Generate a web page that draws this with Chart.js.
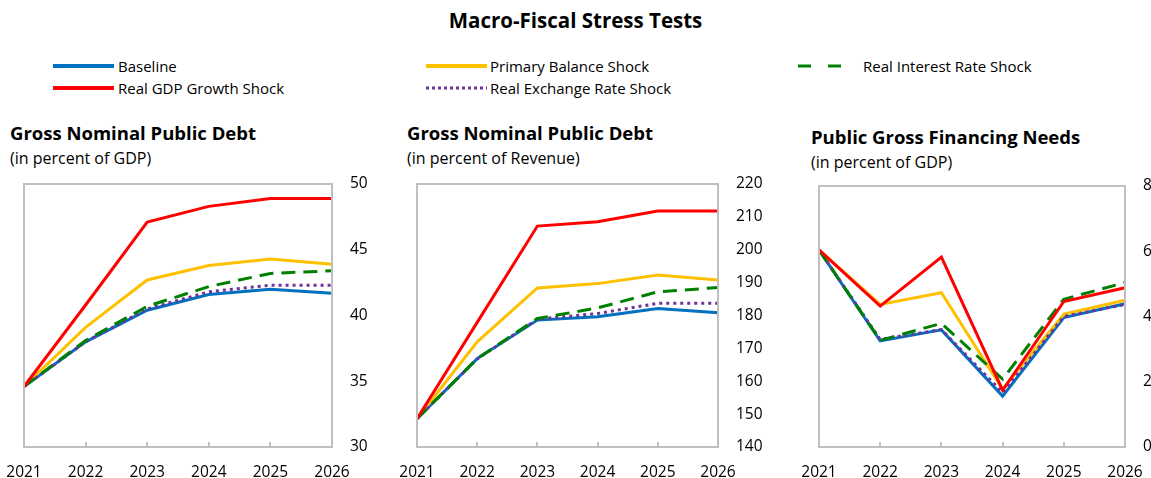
<!DOCTYPE html>
<html>
<head>
<meta charset="utf-8">
<script src="https://cdn.jsdelivr.net/npm/chart.js@4.4.1/dist/chart.umd.min.js"></script>
<style>
  html, body { margin: 0; padding: 0; background: #fff; }
  body { width: 1151px; height: 478px; overflow: hidden; position: relative; font-family: "Open Sans", "Noto Sans", sans-serif; color: #000; }
  .abs { position: absolute; white-space: nowrap; }
  #mainTitle { left: 0; width: 1151px; top: 6px; text-align: center; font-family: "Liberation Sans Narrow", "Open Sans", sans-serif; font-weight: bold; font-size: 20.5px; }
  .leg { font-size: 15px; line-height: 20px; }
  .ptitle { font-weight: bold; font-size: 18.5px; line-height: 25px; }
  .psub { font-size: 16px; line-height: 22px; }
  canvas { position: absolute; }
</style>
</head>
<body>
<div id="mainTitle" class="abs">Macro-Fiscal Stress Tests</div>

<!-- legend -->
<svg class="abs" style="left:0;top:0" width="1151" height="100">
  <line x1="53" y1="66" x2="114" y2="66" stroke="#0070c0" stroke-width="4"/>
  <line x1="53" y1="88" x2="114" y2="88" stroke="#ff0000" stroke-width="4"/>
  <line x1="426" y1="66" x2="487" y2="66" stroke="#ffc000" stroke-width="4"/>
  <line x1="426" y1="88" x2="487" y2="88" stroke="#7030a0" stroke-width="3" stroke-dasharray="3,3"/>
  <line x1="798" y1="66" x2="849" y2="66" stroke="#008000" stroke-width="3" stroke-dasharray="13,17"/>
</svg>
<div class="abs leg" style="left:118px;top:56px">Baseline</div>
<div class="abs leg" style="left:118px;top:78px">Real GDP Growth Shock</div>
<div class="abs leg" style="left:490px;top:56px">Primary Balance Shock</div>
<div class="abs leg" style="left:490px;top:78px">Real Exchange Rate Shock</div>
<div class="abs leg" style="left:863px;top:56px">Real Interest Rate Shock</div>

<!-- panel headings -->
<div class="abs ptitle" style="left:10px;top:120px">Gross Nominal Public Debt</div>
<div class="abs psub" style="left:10px;top:147px">(in percent of GDP)</div>
<div class="abs ptitle" style="left:407px;top:120px">Gross Nominal Public Debt</div>
<div class="abs psub" style="left:407px;top:147px">(in percent of Revenue)</div>
<div class="abs ptitle" style="left:811px;top:124px">Public Gross Financing Needs</div>
<div class="abs psub" style="left:811px;top:151px">(in percent of GDP)</div>

<canvas id="c1" style="left:0px;top:172px" width="382" height="310"></canvas>
<canvas id="c2" style="left:393px;top:172px" width="375" height="310"></canvas>
<canvas id="c3" style="left:795px;top:174px" width="380" height="308"></canvas>

<script>
// years on the horizontal axis
var years = ['2021', '2022', '2023', '2024', '2025', '2026'];

// gross nominal public debt, % of GDP
var debtGdpBaseline = [34.6, 38.0, 40.4, 41.6, 42.0, 41.7];
var debtGdpPrimary  = [34.6, 39.1, 42.7, 43.8, 44.3, 43.9];
var debtGdpInterest = [34.6, 38.1, 40.7, 42.2, 43.2, 43.4];
var debtGdpGrowth   = [34.6, 40.8, 47.1, 48.3, 48.9, 48.9];
var debtGdpExchange = [34.6, 38.0, 40.5, 41.8, 42.3, 42.3];

// gross nominal public debt, % of revenue
var debtRevBaseline = [148.6, 166.9, 178.6, 179.6, 182.1, 180.8];
var debtRevPrimary  = [148.6, 172.0, 188.4, 189.7, 192.3, 190.8];
var debtRevInterest = [148.6, 166.9, 179.1, 182.3, 187.2, 188.5];
var debtRevGrowth   = [148.6, 177.9, 207.2, 208.5, 211.8, 211.8];
var debtRevExchange = [148.6, 166.8, 178.9, 180.6, 183.7, 183.7];

// public gross financing needs, % of GDP
var gfnBaseline = [6.04, 3.25, 3.59, 1.56, 3.97, 4.39];
var gfnPrimary  = [6.04, 4.37, 4.73, 1.77, 4.07, 4.50];
var gfnInterest = [6.04, 3.27, 3.79, 2.08, 4.53, 5.04];
var gfnGrowth   = [6.04, 4.32, 5.82, 1.74, 4.46, 4.88];
var gfnExchange = [6.04, 3.30, 3.60, 1.67, 4.00, 4.37];

var colors = {
	blue: '#0070c0',
	red: '#ff0000',
	yellow: '#ffc000',
	green: '#008000',
	purple: '#7030a0'
};

// grey box round the plot area plus short inward ticks on the bottom edge
var framePlugin = {
	id: 'frame',
	afterDatasetsDraw: function(chart) {
		var ctx = chart.ctx;
		var a = chart.chartArea;
		var xs = chart.scales.x;
		ctx.save();
		ctx.strokeStyle = '#bfbfbf';
		ctx.lineWidth = 2;
		ctx.strokeRect(a.left, a.top, a.right - a.left, a.bottom - a.top);
		for (var i = 1; i < xs.ticks.length - 1; i++) {
			var px = Math.round(xs.getPixelForTick(i));
			ctx.beginPath();
			ctx.moveTo(px, a.bottom);
			ctx.lineTo(px, a.bottom - 5);
			ctx.stroke();
		}
		ctx.restore();
	}
};

function line(label, data, color, order, dash) {
	return {
		label: label,
		data: data,
		borderColor: color,
		backgroundColor: color,
		borderWidth: 3,
		borderDash: dash || [],
		pointRadius: 0,
		tension: 0,
		fill: false,
		order: order
	};
}

function makeChart(id, sets, min, max, step, yWidth) {
	var ctx = document.getElementById(id).getContext('2d');
	return new Chart(ctx, {
		type: 'line',
		data: {
			labels: years,
			datasets: [
				line('Baseline', sets[0], colors.blue, 5),
				line('Primary Balance Shock', sets[1], colors.yellow, 4),
				line('Real Interest Rate Shock', sets[2], colors.green, 2, [14, 8]),
				line('Real GDP Growth Shock', sets[3], colors.red, 1),
				line('Real Exchange Rate Shock', sets[4], colors.purple, 3, [3, 4])
			]
		},
		options: {
			responsive: false,
			animation: false,
			events: [],
			layout: { padding: { left: 24, top: 12, right: 0, bottom: 0 } },
			plugins: {
				legend: { display: false },
				title: { display: false },
				tooltip: { enabled: false }
			},
			scales: {
				x: {
					offset: false,
					grid: { display: false, drawTicks: false },
					border: { display: false },
					ticks: {
						color: '#000',
						padding: 16,
						maxRotation: 0,
						autoSkip: false,
						font: { family: 'Open Sans', size: 15.5 }
					},
					afterFit: function(scale) {
						scale.height = 35;
						// keep the plot edges fixed; layout padding handles the label overhang
						scale.paddingLeft = 10;
						scale.paddingRight = 10;
					}
				},
				y: {
					position: 'right',
					min: min,
					max: max,
					grid: { display: false, drawTicks: false },
					border: { display: false },
					ticks: {
						stepSize: step,
						color: '#000',
						padding: 18,
						font: { family: 'Open Sans', size: 15.5 }
					},
					afterFit: function(scale) {
						scale.width = yWidth;
						scale.paddingTop = 8;
						scale.paddingBottom = 8;
					}
				}
			}
		},
		plugins: [framePlugin]
	});
}

makeChart('c1', [debtGdpBaseline, debtGdpPrimary, debtGdpInterest, debtGdpGrowth, debtGdpExchange], 30, 50, 5, 50);
makeChart('c2', [debtRevBaseline, debtRevPrimary, debtRevInterest, debtRevGrowth, debtRevExchange], 140, 220, 10, 50);
makeChart('c3', [gfnBaseline, gfnPrimary, gfnInterest, gfnGrowth, gfnExchange], 0, 8, 2, 50);
</script>
</body>
</html>
